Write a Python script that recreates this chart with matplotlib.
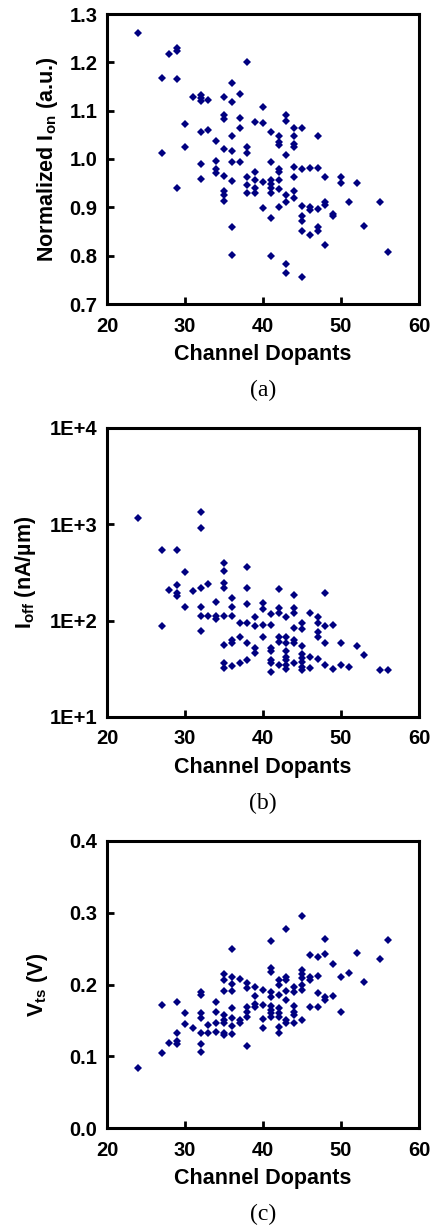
import matplotlib
matplotlib.use('Agg')
import matplotlib.pyplot as plt
from matplotlib.ticker import FixedLocator, FuncFormatter, NullLocator

# ---- data (x = number of channel dopants)
ion_dopants = [24,
               27, 27,
               28,
               29, 29, 29, 29,
               30, 30,
               31,
               32, 32, 32, 32, 32, 32,
               33, 33,
               34, 34, 34, 34,
               35, 35, 35, 35, 35, 35, 35, 35,
               36, 36, 36, 36, 36, 36, 36, 36,
               37, 37, 37, 37,
               38, 38, 38, 38, 38, 38,
               39, 39, 39, 39, 39,
               40, 40, 40, 40,
               41, 41, 41, 41, 41, 41, 41, 41,
               42, 42, 42, 42, 42, 42, 42, 42,
               43, 43, 43, 43, 43, 43, 43,
               44, 44, 44, 44, 44, 44, 44, 44,
               45, 45, 45, 45, 45, 45, 45,
               46, 46, 46, 46,
               47, 47, 47, 47, 47,
               48, 48, 48, 48,
               49, 49,
               50, 50,
               51, 52, 53, 55, 56]
ion_norm = [1.260,
            1.168, 1.012,
            1.217,
            1.229, 1.223, 1.165, 0.939,
            1.072, 1.024,
            1.128,
            1.132, 1.126, 1.121, 1.056, 0.989, 0.958,
            1.123, 1.061,
            1.037, 0.996, 0.979, 0.970,
            1.128, 1.091, 1.083, 1.020, 0.965, 0.933, 0.926, 0.914,
            1.157, 1.117, 1.048, 1.017, 0.993, 0.954, 0.860, 0.802,
            1.134, 1.084, 1.064, 0.993,
            1.200, 1.024, 1.012, 0.962, 0.946, 0.929,
            1.076, 0.973, 0.956, 0.940, 0.930,
            1.108, 1.074, 0.953, 0.899,
            1.055, 0.993, 0.957, 0.948, 0.940, 0.929, 0.877, 0.800,
            1.048, 1.036, 1.028, 0.980, 0.973, 0.957, 0.938, 0.901,
            1.091, 1.079, 1.009, 0.926, 0.912, 0.783, 0.764,
            1.065, 1.048, 1.031, 1.024, 0.984, 0.962, 0.934, 0.919,
            1.065, 0.980, 0.903, 0.882, 0.872, 0.850, 0.755,
            0.982, 0.901, 0.895, 0.843,
            1.048, 0.982, 0.897, 0.860, 0.851,
            0.962, 0.910, 0.905, 0.823,
            0.887, 0.882,
            0.963, 0.950,
            0.912, 0.950, 0.862, 0.910, 0.808]

ioff_dopants = [24,
                27, 27,
                28,
                29, 29, 29, 29,
                30, 30,
                31,
                32, 32, 32, 32, 32, 32,
                33, 33,
                34, 34, 34,
                35, 35, 35, 35, 35, 35, 35, 35,
                36, 36, 36, 36, 36, 36,
                37, 37, 37,
                38, 38, 38, 38, 38, 38,
                39, 39, 39, 39,
                40, 40, 40, 40,
                41, 41, 41, 41, 41, 41, 41,
                42, 42, 42, 42, 42, 42,
                43, 43, 43, 43, 43, 43, 43, 43,
                44, 44, 44, 44, 44, 44, 44,
                45, 45, 45, 45, 45, 45, 45, 45,
                46, 46, 46,
                47, 47, 47, 47, 47,
                48, 48, 48, 48,
                49, 49,
                50, 50,
                51, 52, 53, 55, 56]
ioff_na = [1155,
           541, 88,
           208,
           541, 234, 192, 182,
           322, 138,
           205,
           1352, 923, 217, 140, 112, 79,
           240, 112,
           157, 112, 103,
           400, 330, 248, 217, 112, 56, 36.6, 32,
           171, 140, 112, 63, 58, 33.8,
           95, 68, 36,
           363, 220, 148, 95, 58, 39,
           110, 88, 52.5, 46,
           151, 132, 90, 68,
           116, 90, 52.5, 48.8, 39, 36.6, 29.5,
           211, 134, 121, 68, 60.5, 34.7,
           110, 68, 59, 48.8, 42, 39, 34.7, 31.3,
           186, 134, 121, 83, 63, 59, 36.6,
           94, 82, 55, 44.8, 40.6, 37.5, 33.3, 30.8,
           121, 42, 32.5,
           110, 94, 77, 67, 39.7,
           192, 87, 59, 34.7,
           90, 31.3,
           58, 34.7,
           32.8, 54, 44, 31, 31]

vts_dopants = [24,
               27, 27,
               28,
               29, 29, 29, 29,
               30, 30,
               31,
               32, 32, 32, 32, 32, 32, 32,
               33, 33,
               34, 34, 34, 34,
               35, 35, 35, 35, 35, 35, 35, 35,
               36, 36, 36, 36, 36, 36, 36, 36,
               37, 37, 37,
               38, 38, 38, 38, 38, 38,
               39, 39, 39, 39,
               40, 40, 40, 40,
               41, 41, 41, 41, 41, 41, 41, 41, 41,
               42, 42, 42, 42, 42, 42, 42, 42,
               43, 43, 43, 43, 43, 43, 43,
               44, 44, 44, 44, 44, 44,
               45, 45, 45, 45, 45, 45, 45,
               46, 46, 46, 46,
               47, 47, 47, 47,
               48, 48, 48, 48,
               49, 49,
               50, 50,
               51, 52, 53, 55, 56]
vts_volt = [0.083,
            0.172, 0.105,
            0.118,
            0.176, 0.133, 0.121, 0.117,
            0.160, 0.145,
            0.140,
            0.189, 0.186, 0.160, 0.153, 0.133, 0.117, 0.106,
            0.144, 0.133,
            0.175, 0.162, 0.147, 0.134,
            0.215, 0.206, 0.191, 0.158, 0.151, 0.146, 0.132, 0.129,
            0.250, 0.210, 0.201, 0.191, 0.167, 0.153, 0.142, 0.131,
            0.208, 0.151, 0.146,
            0.202, 0.195, 0.168, 0.162, 0.155, 0.114,
            0.196, 0.184, 0.173, 0.169,
            0.193, 0.172, 0.152, 0.140,
            0.261, 0.223, 0.217, 0.190, 0.183, 0.170, 0.165, 0.160, 0.155,
            0.206, 0.199, 0.185, 0.167, 0.160, 0.155, 0.141, 0.132,
            0.277, 0.210, 0.206, 0.191, 0.178, 0.151, 0.147,
            0.196, 0.189, 0.170, 0.161, 0.158, 0.147,
            0.296, 0.220, 0.215, 0.209, 0.199, 0.193, 0.151,
            0.241, 0.211, 0.206, 0.169,
            0.238, 0.212, 0.188, 0.169,
            0.263, 0.243, 0.183, 0.179,
            0.228, 0.184,
            0.211, 0.161,
            0.216, 0.244, 0.204, 0.235, 0.262]

x_ticks = [20, 30, 40, 50, 60]
ion_ticks = [0.7, 0.8, 0.9, 1.0, 1.1, 1.2, 1.3]
ioff_ticks = [1e1, 1e2, 1e3, 1e4]
ioff_ticklabels = ['1E+1', '1E+2', '1E+3', '1E+4']
vts_ticks = [0.0, 0.1, 0.2, 0.3, 0.4]

# ---- style
plt.rcParams['font.family'] = 'Liberation Sans'
plt.rcParams['font.weight'] = 'bold'
plt.rcParams['mathtext.fontset'] = 'custom'
plt.rcParams['mathtext.rm'] = 'Liberation Sans:bold'
plt.rcParams['mathtext.it'] = 'Liberation Sans:bold'
plt.rcParams['mathtext.bf'] = 'Liberation Sans:bold'

W, H = 434, 1227
fig = plt.figure(figsize=(W / 100, H / 100), dpi=100)
navy = '#000080'

def make_axes(top, bottom):
    # pixel box -> figure fraction
    left, right = 107, 419
    ax = fig.add_axes([left / W, 1 - bottom / H, (right - left) / W, (bottom - top) / H])
    for s in ax.spines.values():
        s.set_linewidth(2.2)
    ax.tick_params(direction='in', length=5, width=2, labelsize=14.5)
    ax.tick_params(axis='x', pad=9)
    ax.tick_params(axis='y', pad=7)
    ax.set_xlim(20, 60)
    ax.set_xticks(x_ticks)
    ax.set_xlabel('Channel Dopants', fontsize=15.5, fontweight='bold', labelpad=6)
    return ax

# (a) normalized Ion
ax1 = make_axes(14, 304)
ax1.plot(ion_dopants, ion_norm, 'D', color=navy, ms=4.0, mew=0)
ax1.set_ylim(0.7, 1.3)
ax1.set_yticks(ion_ticks)
ax1.yaxis.set_major_formatter(FuncFormatter(lambda v, p: '%.1f' % v))
ax1.set_ylabel(r'Normalized I$_{\rm on}$ (a.u.)', fontsize=15.5, fontweight='bold')
ax1.yaxis.set_label_coords(-0.151, 0.5)

# (b) Ioff, log scale
ax2 = make_axes(428, 717)
ax2.plot(ioff_dopants, ioff_na, 'D', color=navy, ms=4.0, mew=0)
ax2.set_yscale('log')
ax2.set_ylim(10, 10000)
ax2.yaxis.set_major_locator(FixedLocator(ioff_ticks))
ax2.yaxis.set_minor_locator(NullLocator())
ax2.set_yticklabels(ioff_ticklabels)
ax2.set_ylabel('I$_{\\rm off}$ (nA/\u00b5m)', fontsize=15.5, fontweight='bold')
ax2.yaxis.set_label_coords(-0.22, 0.5)

# (c) Vts
ax3 = make_axes(841, 1128)
ax3.plot(vts_dopants, vts_volt, 'D', color=navy, ms=4.0, mew=0)
ax3.set_ylim(0.0, 0.4)
ax3.set_yticks(vts_ticks)
ax3.yaxis.set_major_formatter(FuncFormatter(lambda v, p: '%.1f' % v))
ax3.set_ylabel(r'V$_{\rm ts}$ (V)', fontsize=15.5, fontweight='bold')
ax3.yaxis.set_label_coords(-0.183, 0.5)

for lab, yc in [('(a)', 390), ('(b)', 803), ('(c)', 1214)]:
    fig.text(263 / W, 1 - yc / H, lab, family='Liberation Serif', weight='normal',
             fontsize=17, ha='center', va='center')

fig.savefig('out.png', dpi=100)
